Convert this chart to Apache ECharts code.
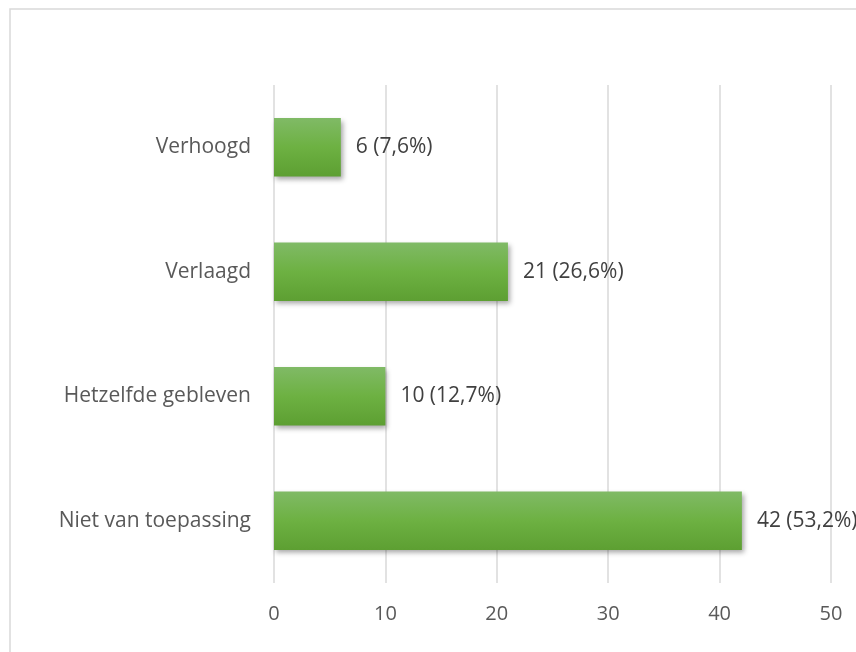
<!DOCTYPE html>
<html>
<head>
<meta charset="utf-8">
<script src="https://cdn.jsdelivr.net/npm/echarts@6/dist/echarts.min.js"></script>
<style>
  html, body { margin: 0; padding: 0; background: #ffffff; }
  #chart { width: 856px; height: 652px; }
</style>
</head>
<body>
<div id="chart"></div>
<script>
// Answer categories, top to bottom
const categories = ['Verhoogd', 'Verlaagd', 'Hetzelfde gebleven', 'Niet van toepassing'];
// Number of responses per category
const counts = [6, 21, 10, 42];
// Share of all responses, as printed next to each bar
const percentages = ['7,6%', '26,6%', '12,7%', '53,2%'];
// Value axis ticks
const xTicks = [0, 10, 20, 30, 40, 50];

const FONT = '"Open Sans", "Liberation Sans", sans-serif';

const chart = echarts.init(document.getElementById('chart'), null, { renderer: 'canvas' });

chart.setOption({
  backgroundColor: '#ffffff',
  animation: false,
  graphic: [{
    type: 'rect',
    shape: { x: 10, y: 9, width: 1000, height: 800 },
    style: { fill: 'none', stroke: '#d9d9d9', lineWidth: 1.5 },
    silent: true,
    z: -10
  }],
  grid: { left: 274, right: 25, top: 85, bottom: 69, containLabel: false },
  xAxis: {
    type: 'value',
    min: xTicks[0],
    max: xTicks[xTicks.length - 1],
    interval: xTicks[1] - xTicks[0],
    axisLine: { show: false },
    axisTick: { show: false },
    axisLabel: { color: '#595959', fontSize: 20, fontFamily: FONT, margin: 21 },
    splitLine: { show: true, lineStyle: { color: '#d9d9d9', width: 1.5 } }
  },
  yAxis: {
    type: 'category',
    data: categories,
    inverse: true,
    axisLine: { show: false },
    axisTick: { show: false },
    axisLabel: { color: '#595959', fontSize: 21, fontFamily: FONT, margin: 23 }
  },
  series: [{
    type: 'bar',
    data: counts,
    barWidth: '47%',
    itemStyle: {
      color: new echarts.graphic.LinearGradient(0, 0, 0, 1, [
        { offset: 0, color: '#80ba66' },
        { offset: 0.5, color: '#6db142' },
        { offset: 1, color: '#5d9f32' }
      ]),
      shadowColor: 'rgba(0,0,0,0.35)',
      shadowBlur: 5,
      shadowOffsetX: 2,
      shadowOffsetY: 3
    },
    label: {
      show: true,
      position: 'right',
      distance: 15,
      color: '#404040',
      fontSize: 21,
      fontFamily: FONT,
      formatter: p => p.value + ' (' + percentages[p.dataIndex] + ')'
    }
  }]
});
</script>
</body>
</html>
